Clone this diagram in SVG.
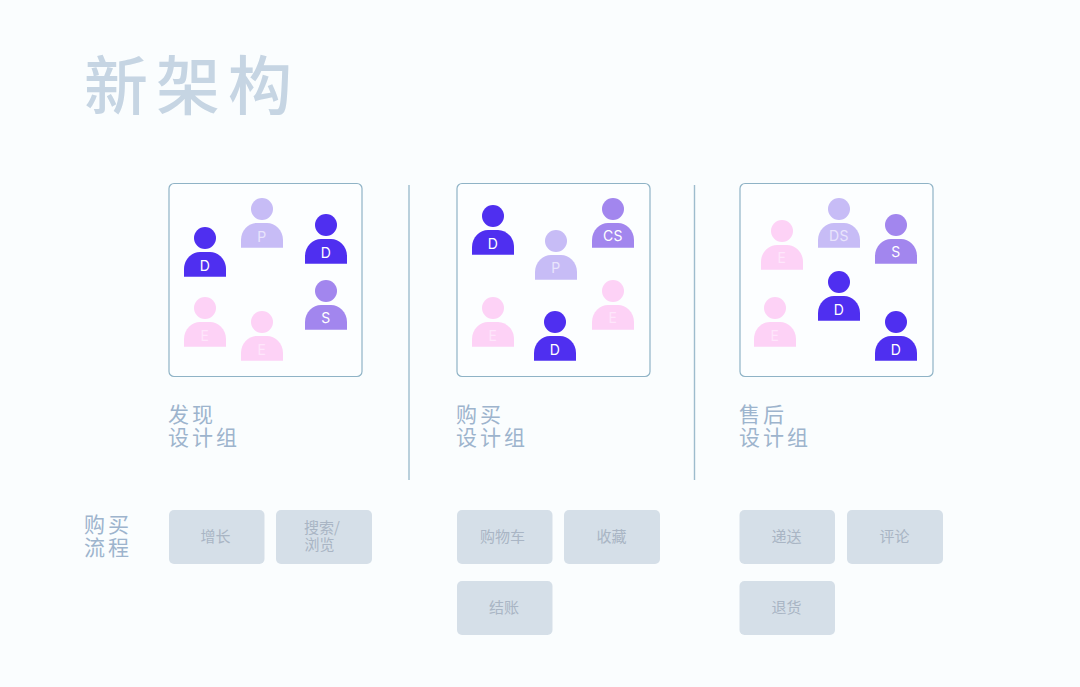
<svg xmlns="http://www.w3.org/2000/svg" width="1080" height="687" viewBox="0 0 1080 687">
<style>
text{font-family:"Noto Sans CJK SC","Noto Sans",sans-serif}
.team{fill:#fcfeff;stroke:#8fb3c6;stroke-width:1.2}
.div{stroke:#9dbccd;stroke-width:1.4;fill:none}
.tl{font-size:21px;fill:#9db4cd;letter-spacing:3px}
.step{fill:#d5dfe8}
.st{font-size:15px;fill:#a9b5c4;text-anchor:middle}
.lb{font-family:Inter,"Liberation Sans",sans-serif;font-size:14px;font-weight:400;letter-spacing:.5px;text-anchor:middle}
.D{fill:#4f2ff0}.P{fill:#c7bcf6}.S{fill:#a286ee}.E{fill:#fdd2f6}
.lD{fill:#fff}.lP{fill:#e9e4fc}.lS{fill:#fff}.lE{fill:#fee6fb}
</style>
<defs>
<g id="person"><circle cx="0" cy="0" r="11"/><path d="M-21 38.700V31C-21 21-13 14-5 14H5C13 14 21 21 21 31V38.700Z"/></g>
</defs>
<rect width="1080" height="687" fill="#fafdfe"/>
<text x="84" y="109" font-size="64" font-weight="500" fill="#c6d5e3" letter-spacing="8">新架构</text>
<g id="connectors">
<line class="div" x1="409" y1="185" x2="409" y2="480"/>
<line class="div" x1="694.500" y1="185" x2="694.500" y2="480"/>
</g>
<g id="team-discover">
<rect class="team" x="169" y="183.500" width="193" height="193" rx="5"/>
<use href="#person" class="D" x="205" y="238"/><text class="lb lD" x="205" y="271">D</text>
<use href="#person" class="P" x="262" y="209"/><text class="lb lP" x="262" y="242">P</text>
<use href="#person" class="D" x="326" y="225"/><text class="lb lD" x="326" y="258">D</text>
<use href="#person" class="E" x="205" y="308"/><text class="lb lE" x="205" y="341">E</text>
<use href="#person" class="E" x="262" y="322"/><text class="lb lE" x="262" y="355">E</text>
<use href="#person" class="S" x="326" y="291"/><text class="lb lS" x="326" y="323">S</text>
</g>
<g id="team-purchase">
<rect class="team" x="457" y="183.500" width="193" height="193" rx="5"/>
<use href="#person" class="D" x="493" y="216"/><text class="lb lD" x="493" y="249">D</text>
<use href="#person" class="P" x="556" y="241"/><text class="lb lP" x="556" y="273">P</text>
<use href="#person" class="S" x="613" y="209"/><text class="lb lS" x="613" y="241">CS</text>
<use href="#person" class="E" x="493" y="308"/><text class="lb lE" x="493" y="341">E</text>
<use href="#person" class="D" x="555" y="322"/><text class="lb lD" x="555" y="355">D</text>
<use href="#person" class="E" x="613" y="291"/><text class="lb lE" x="613" y="323">E</text>
</g>
<g id="team-aftersale">
<rect class="team" x="740" y="183.500" width="193" height="193" rx="5"/>
<use href="#person" class="E" x="782" y="231"/><text class="lb lE" x="782" y="263">E</text>
<use href="#person" class="P" x="839" y="209"/><text class="lb lP" x="839" y="241">DS</text>
<use href="#person" class="S" x="896" y="225"/><text class="lb lS" x="896" y="257">S</text>
<use href="#person" class="E" x="775" y="308"/><text class="lb lE" x="775" y="341">E</text>
<use href="#person" class="D" x="839" y="282"/><text class="lb lD" x="839" y="315">D</text>
<use href="#person" class="D" x="896" y="322"/><text class="lb lD" x="896" y="355">D</text>
</g>
<g id="labels">
<text class="tl"><tspan x="168" y="421.500">发现</tspan><tspan x="168" y="444.500">设计组</tspan></text>
<text class="tl"><tspan x="456" y="421.500">购买</tspan><tspan x="456" y="444.500">设计组</tspan></text>
<text class="tl"><tspan x="739" y="421.500">售后</tspan><tspan x="739" y="444.500">设计组</tspan></text>
<text class="tl"><tspan x="84" y="531.500">购买</tspan><tspan x="84" y="554.500">流程</tspan></text>
</g>
<g id="step-growth"><rect class="step" x="169" y="510" width="95.500" height="54" rx="5"/><text class="st" x="215.500" y="542">增长</text></g>
<g id="step-search"><rect class="step" x="276" y="510" width="96" height="54" rx="5"/><text class="st"><tspan x="322" y="533">搜索/</tspan><tspan x="319.500" y="550">浏览</tspan></text></g>
<g id="step-cart"><rect class="step" x="457" y="510" width="95.500" height="54" rx="5"/><text class="st" x="502.500" y="542">购物车</text></g>
<g id="step-fav"><rect class="step" x="564" y="510" width="96" height="54" rx="5"/><text class="st" x="611.500" y="542">收藏</text></g>
<g id="step-checkout"><rect class="step" x="457" y="581" width="95.500" height="54" rx="5"/><text class="st" x="504" y="613">结账</text></g>
<g id="step-deliver"><rect class="step" x="739.500" y="510" width="95.500" height="54" rx="5"/><text class="st" x="786.500" y="542">递送</text></g>
<g id="step-review"><rect class="step" x="847" y="510" width="96" height="54" rx="5"/><text class="st" x="894.500" y="542">评论</text></g>
<g id="step-return"><rect class="step" x="739.500" y="581" width="95.500" height="54" rx="5"/><text class="st" x="786.500" y="613">退货</text></g>
</svg>
